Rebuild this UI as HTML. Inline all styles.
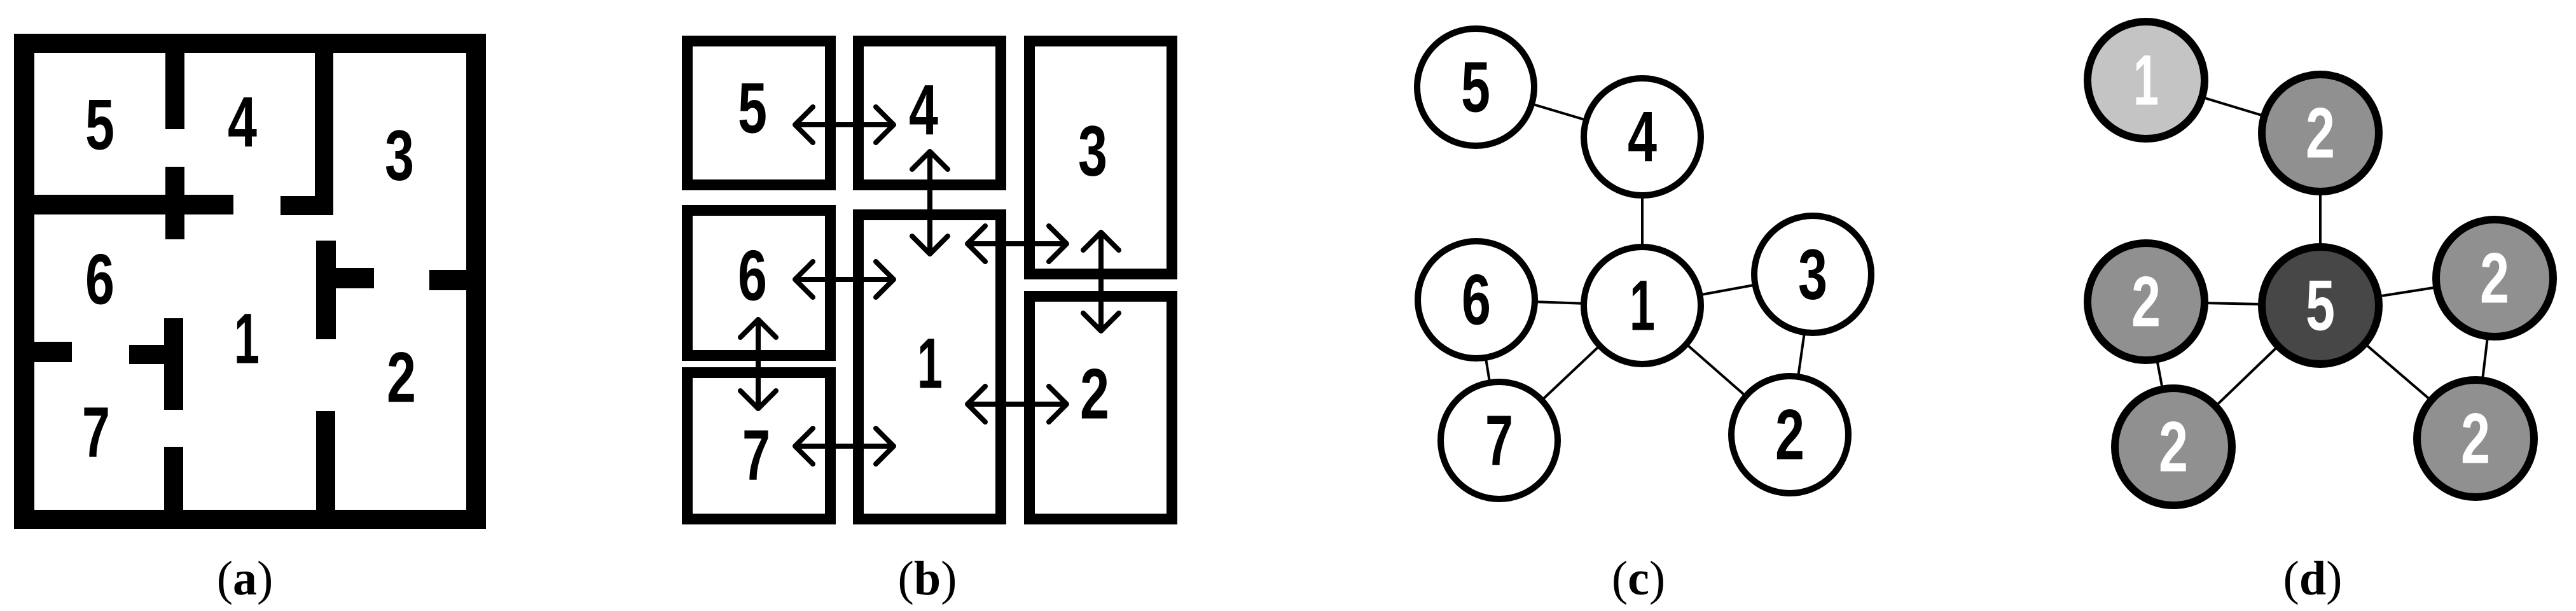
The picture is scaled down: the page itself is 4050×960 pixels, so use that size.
<!DOCTYPE html>
<html><head><meta charset="utf-8"><style>
html,body{margin:0;padding:0;background:#fff;}
svg{display:block;}
.d{font-family:"Liberation Sans",sans-serif;font-weight:bold;font-size:112px;text-anchor:middle;dominant-baseline:central;}
.cap{font-family:"Liberation Serif",serif;font-size:76px;text-anchor:middle;}
</style></head><body>
<svg width="4050" height="960" viewBox="0 0 4050 960" xmlns="http://www.w3.org/2000/svg">
<rect width="4050" height="960" fill="#fff"/>
<!-- Panel a -->
<g fill="#000">
<rect x="22" y="53" width="742" height="30"/>
<rect x="22" y="801" width="742" height="30"/>
<rect x="22" y="53" width="32" height="778"/>
<rect x="733" y="53" width="31" height="778"/>
<rect x="260" y="83" width="30" height="120"/>
<rect x="54" y="306" width="313" height="31"/>
<rect x="260" y="262" width="30" height="114"/>
<rect x="495" y="83" width="29" height="255"/>
<rect x="441" y="308" width="83" height="30"/>
<rect x="497" y="378" width="31" height="155"/>
<rect x="528" y="421" width="60" height="32"/>
<rect x="675" y="424" width="58" height="32"/>
<rect x="54" y="537" width="59" height="32"/>
<rect x="203" y="542" width="57" height="30"/>
<rect x="258" y="500" width="30" height="144"/>
<rect x="258" y="702" width="30" height="99"/>
<rect x="497" y="646" width="30" height="155"/>
</g>
<g class="d">
<text x="157" y="196" textLength="46" lengthAdjust="spacingAndGlyphs">5</text><text x="381" y="192" textLength="46" lengthAdjust="spacingAndGlyphs">4</text><text x="628" y="244" textLength="46" lengthAdjust="spacingAndGlyphs">3</text>
<text x="157" y="439" textLength="46" lengthAdjust="spacingAndGlyphs">6</text><text x="388" y="532" textLength="40" lengthAdjust="spacingAndGlyphs">1</text><text x="631" y="593" textLength="46" lengthAdjust="spacingAndGlyphs">2</text><text x="151" y="679" textLength="44" lengthAdjust="spacingAndGlyphs">7</text>
</g>
<text class="cap" x="385" y="934">(<tspan font-weight="bold">a</tspan>)</text>
<!-- Panel b -->
<g fill="none" stroke="#000" stroke-width="17">
<rect x="1080.5" y="64.5" width="225" height="226"/>
<rect x="1349.5" y="64.5" width="224" height="226"/>
<rect x="1618.5" y="64.5" width="224" height="366"/>
<rect x="1080.5" y="330.5" width="225" height="228"/>
<rect x="1349.5" y="337.5" width="224" height="478"/>
<rect x="1080.5" y="585.5" width="225" height="230"/>
<rect x="1618.5" y="465.5" width="224" height="350"/>
</g>
<g fill="none" stroke="#000" stroke-width="8" stroke-linecap="round" stroke-linejoin="round">
<path d="M1250 196H1405M1278 168L1250 196L1278 224M1377 168L1405 196L1377 224"/>
<path d="M1250 439H1405M1278 411L1250 439L1278 467M1377 411L1405 439L1377 467"/>
<path d="M1250 701H1405M1278 673L1250 701L1278 729M1377 673L1405 701L1377 729"/>
<path d="M1521 383H1677M1549 355L1521 383L1549 411M1649 355L1677 383L1649 411"/>
<path d="M1521 635H1677M1549 607L1521 635L1549 663M1649 607L1677 635L1649 663"/>
<path d="M1462 238V399M1434 266L1462 238L1490 266M1434 371L1462 399L1490 371"/>
<path d="M1731 365V520M1703 393L1731 365L1759 393M1703 492L1731 520L1759 492"/>
<path d="M1192 502V642M1164 530L1192 502L1220 530M1164 614L1192 642L1220 614"/>
</g>
<g class="d">
<text x="1183" y="170" textLength="46" lengthAdjust="spacingAndGlyphs">5</text><text x="1452" y="173" textLength="46" lengthAdjust="spacingAndGlyphs">4</text><text x="1718" y="237" textLength="46" lengthAdjust="spacingAndGlyphs">3</text>
<text x="1183" y="433" textLength="46" lengthAdjust="spacingAndGlyphs">6</text><text x="1462" y="571" textLength="40" lengthAdjust="spacingAndGlyphs">1</text><text x="1721" y="619" textLength="46" lengthAdjust="spacingAndGlyphs">2</text><text x="1189" y="715" textLength="44" lengthAdjust="spacingAndGlyphs">7</text>
</g>
<text class="cap" x="1458" y="934">(<tspan font-weight="bold">b</tspan>)</text>
<!-- Panel c -->
<g stroke="#000" stroke-width="4">
<line x1="2320" y1="137" x2="2582" y2="215"/>
<line x1="2582" y1="215" x2="2582" y2="480"/>
<line x1="2321" y1="471" x2="2582" y2="480"/>
<line x1="2582" y1="480" x2="2850" y2="431"/>
<line x1="2850" y1="431" x2="2814" y2="683"/>
<line x1="2321" y1="471" x2="2357" y2="692"/>
<line x1="2582" y1="480" x2="2357" y2="692"/>
<line x1="2582" y1="480" x2="2814" y2="683"/>
</g>
<g fill="#fff" stroke="#000" stroke-width="10">
<circle cx="2320" cy="137" r="92"/><circle cx="2582" cy="215" r="92"/><circle cx="2582" cy="480" r="92"/>
<circle cx="2321" cy="471" r="92"/><circle cx="2850" cy="431" r="92"/><circle cx="2357" cy="692" r="92"/><circle cx="2814" cy="683" r="92"/>
</g>
<g class="d">
<text x="2320" y="137" textLength="46" lengthAdjust="spacingAndGlyphs">5</text><text x="2582" y="215" textLength="46" lengthAdjust="spacingAndGlyphs">4</text><text x="2582" y="480" textLength="40" lengthAdjust="spacingAndGlyphs">1</text>
<text x="2321" y="471" textLength="46" lengthAdjust="spacingAndGlyphs">6</text><text x="2850" y="431" textLength="46" lengthAdjust="spacingAndGlyphs">3</text><text x="2357" y="692" textLength="44" lengthAdjust="spacingAndGlyphs">7</text><text x="2814" y="683" textLength="46" lengthAdjust="spacingAndGlyphs">2</text>
</g>
<text class="cap" x="2576" y="934">(<tspan font-weight="bold">c</tspan>)</text>
<!-- Panel d -->
<g stroke="#000" stroke-width="4">
<line x1="3374" y1="126" x2="3648" y2="209"/>
<line x1="3648" y1="209" x2="3648" y2="480"/>
<line x1="3374" y1="474" x2="3648" y2="480"/>
<line x1="3648" y1="480" x2="3922" y2="437"/>
<line x1="3922" y1="437" x2="3892" y2="689"/>
<line x1="3374" y1="474" x2="3417" y2="702"/>
<line x1="3648" y1="480" x2="3417" y2="702"/>
<line x1="3648" y1="480" x2="3892" y2="689"/>
</g>
<g stroke="#000" stroke-width="12">
<circle cx="3374" cy="126" r="92" fill="#c4c4c4"/>
<circle cx="3648" cy="209" r="92" fill="#909090"/>
<circle cx="3648" cy="480" r="92" fill="#474747"/>
<circle cx="3374" cy="474" r="92" fill="#909090"/>
<circle cx="3922" cy="437" r="92" fill="#909090"/>
<circle cx="3417" cy="702" r="92" fill="#909090"/>
<circle cx="3892" cy="689" r="92" fill="#909090"/>
</g>
<g class="d" fill="#fff">
<text x="3374" y="126" textLength="40" lengthAdjust="spacingAndGlyphs">1</text><text x="3648" y="209" textLength="46" lengthAdjust="spacingAndGlyphs">2</text><text x="3648" y="480" textLength="46" lengthAdjust="spacingAndGlyphs">5</text>
<text x="3374" y="474" textLength="46" lengthAdjust="spacingAndGlyphs">2</text><text x="3922" y="437" textLength="46" lengthAdjust="spacingAndGlyphs">2</text><text x="3417" y="702" textLength="46" lengthAdjust="spacingAndGlyphs">2</text><text x="3892" y="689" textLength="46" lengthAdjust="spacingAndGlyphs">2</text>
</g>
<text class="cap" x="3636" y="934">(<tspan font-weight="bold">d</tspan>)</text>
</svg>
</body></html>
